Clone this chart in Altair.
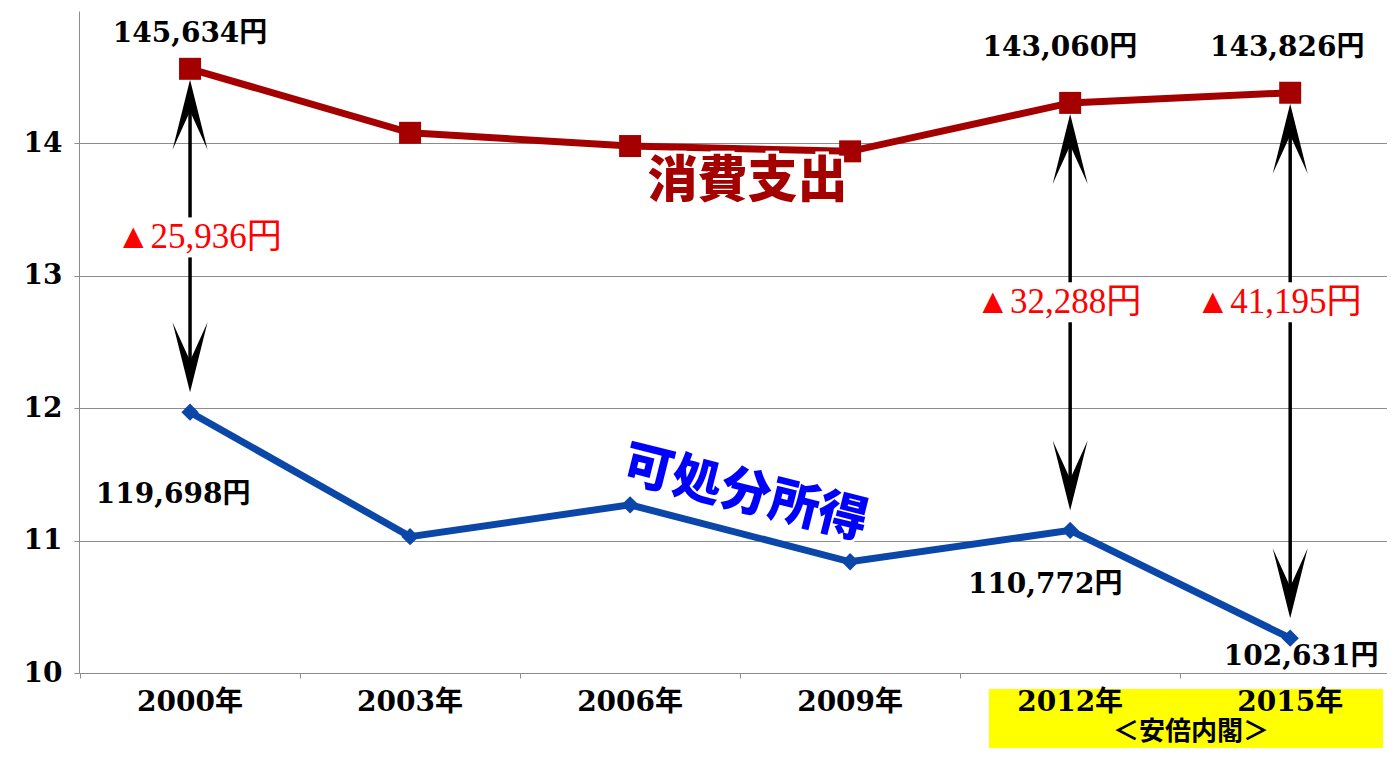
import altair as alt
import pandas as pd

# ---- data (units: 10,000 yen) ----
years = [2000, 2003, 2006, 2009, 2012, 2015]
year_labels = ["2000年", "2003年", "2006年", "2009年", "2012年", "2015年"]
consumption = [14.5634, 14.08, 13.98, 13.94, 14.306, 14.3826]
income = [11.9698, 11.03, 11.27, 10.84, 11.0772, 10.2631]

arrow_years = [2000, 2012, 2015]
cons_labels = ["145,634円", "143,060円", "143,826円"]
inc_labels = ["119,698円", "110,772円", "102,631円"]
gap_labels = ["▲25,936円", "▲32,288円", "▲41,195円"]

# ---- annotation placement (data units) ----
cons_label_x = [2000.0, 2011.86, 2014.96]
cons_label_y = [14.83, 14.72, 14.72]
inc_label_x = [1999.77, 2011.66, 2015.15]
inc_label_y = [11.343, 10.664, 10.12]
gap_label_x = [2000.12, 2011.84, 2014.84]
gap_label_y = [13.29, 12.80, 12.80]

W, H = 1308, 662
RED = "#A50000"
BLUE = "#0A47A8"
GRAY = "#8c8c8c"
SERIF = "DejaVu Serif, Noto Sans CJK JP"

df = pd.DataFrame({"year": years, "cons": consumption, "inc": income, "label": year_labels})
cons_map = dict(zip(years, consumption))
inc_map = dict(zip(years, income))
arr = pd.DataFrame({
    "year": arrow_years,
    "cons": [cons_map[y] for y in arrow_years],
    "inc": [inc_map[y] for y in arrow_years],
    "gap": gap_label_y,
})
cons_lab = pd.DataFrame({"x": cons_label_x, "y": cons_label_y, "t": cons_labels})
inc_lab = pd.DataFrame({"x": inc_label_x, "y": inc_label_y, "t": inc_labels})
gap_lab = pd.DataFrame({"x": gap_label_x, "y": gap_label_y, "t": gap_labels})

xs = alt.Scale(domain=[1998.486, 2016.32], nice=False, zero=False)
ys = alt.Scale(domain=[10, 15], nice=False, zero=False)
xaxis = alt.Axis(values=[1998.5, 2001.5, 2004.5, 2007.5, 2010.5, 2013.5], labels=False,
                 grid=False, title=None, tickSize=5, tickColor=GRAY, domainColor=GRAY)
yaxis = alt.Axis(values=[10 + 0.5 * i for i in range(10)], grid=True, gridColor=GRAY,
                 gridWidth=1, title=None, tickSize=5, tickColor=GRAY, domainColor=GRAY,
                 format="d",
                 labelExpr="datum.value % 1 === 0 ? format(datum.value, 'd') : ''",
                 labelFont="DejaVu Serif", labelFontWeight="bold", labelFontSize=28,
                 labelColor="black", labelPadding=12)

def X(f):
    return alt.X(f, type="quantitative", scale=xs, axis=xaxis)

def Y(f):
    return alt.Y(f, type="quantitative", scale=ys, axis=yaxis)

base = alt.Chart(df)

# arrows
seg1 = alt.Chart(arr).mark_rule(color="black", strokeWidth=3.5, yOffset=40, y2Offset=-20).encode(
    x=X("year"), y=Y("cons"), y2="gap")
seg2 = alt.Chart(arr).mark_rule(color="black", strokeWidth=3.5, yOffset=20, y2Offset=-40).encode(
    x=X("year"), y=Y("gap"), y2="inc")
up_head = alt.Chart(arr).mark_point(
    shape="M0,-1L0.5,1L0,-0.1L-0.5,1Z", size=4900, filled=True, color="black",
    opacity=1, yOffset=46).encode(x=X("year"), y=Y("cons"))
down_head = alt.Chart(arr).mark_point(
    shape="M0,1L0.5,-1L0,0.1L-0.5,-1Z", size=4900, filled=True, color="black",
    opacity=1, yOffset=-55).encode(x=X("year"), y=Y("inc"))

cons_line = base.mark_line(color=RED, strokeWidth=7).encode(x=X("year"), y=Y("cons"))
cons_pts = base.mark_square(color=RED, size=484, opacity=1).encode(x=X("year"), y=Y("cons"))
inc_line = base.mark_line(color=BLUE, strokeWidth=7).encode(x=X("year"), y=Y("inc"))
inc_pts = base.mark_point(shape="diamond", filled=True, color=BLUE, size=300, opacity=1).encode(
    x=X("year"), y=Y("inc"))

txt_kw = dict(font=SERIF, fontWeight="bold", fontSize=28, color="black", baseline="middle")
cons_txt = alt.Chart(cons_lab).mark_text(**txt_kw).encode(x=X("x"), y=Y("y"), text="t")
inc_txt = alt.Chart(inc_lab).mark_text(**txt_kw).encode(x=X("x"), y=Y("y"), text="t")
gap_txt = alt.Chart(gap_lab).mark_text(font="Liberation Serif, Noto Sans CJK JP", fontSize=35,
                                       color="#FF0000", baseline="middle").encode(
    x=X("x"), y=Y("y"), text="t")

name_df = pd.DataFrame({"x": [2007.6], "y": [13.706], "t": ["消費支出"]})
name2_df = pd.DataFrame({"x": [2007.57], "y": [11.35], "t": ["可処分所得"]})
name_kw = dict(font="Noto Sans CJK JP", fontWeight=900, baseline="middle")
cons_name_bg = alt.Chart(name_df).mark_text(fontSize=50, color="white", stroke="white",
                                            strokeWidth=6, **name_kw).encode(
    x=X("x"), y=Y("y"), text="t")
cons_name = alt.Chart(name_df).mark_text(fontSize=50, color=RED, **name_kw).encode(
    x=X("x"), y=Y("y"), text="t")
inc_name_bg = alt.Chart(name2_df).mark_text(fontSize=50, angle=14, color="white", stroke="white",
                                            strokeWidth=6, **name_kw).encode(
    x=X("x"), y=Y("y"), text="t")
inc_name = alt.Chart(name2_df).mark_text(fontSize=50, angle=14, color="#0000FF", **name_kw).encode(
    x=X("x"), y=Y("y"), text="t")

dummy = pd.DataFrame({"a": [0]})
abe_box = alt.Chart(dummy).mark_rect(color="#FFFF00").encode(
    x=alt.value(910), x2=alt.value(1304), y=alt.value(678), y2=alt.value(745))
xlab = base.mark_text(font=SERIF, fontWeight="bold", fontSize=28, color="black",
                      baseline="middle").encode(x=X("year"), y=alt.value(692), text="label")
abe_txt = alt.Chart(dummy).mark_text(font="Noto Sans CJK JP", fontWeight="bold", fontSize=26,
                                     color="black", baseline="middle").encode(
    x=alt.value(1112), y=alt.value(721), text=alt.value("＜安倍内閣＞"))

chart = alt.layer(
    seg1, seg2, up_head, down_head,
    cons_line, cons_pts, inc_line, inc_pts,
    cons_name_bg, cons_name, inc_name_bg, inc_name,
    cons_txt, inc_txt, gap_txt,
    abe_box, xlab, abe_txt,
).properties(
    width=W, height=H,
    padding={"left": 71, "top": 3, "right": 0, "bottom": 75},
    autosize=alt.AutoSizeParams(type="none"),
    background="white",
).configure_view(stroke=None)

chart.save("out.html", embed_options={"renderer": "svg", "actions": False})
